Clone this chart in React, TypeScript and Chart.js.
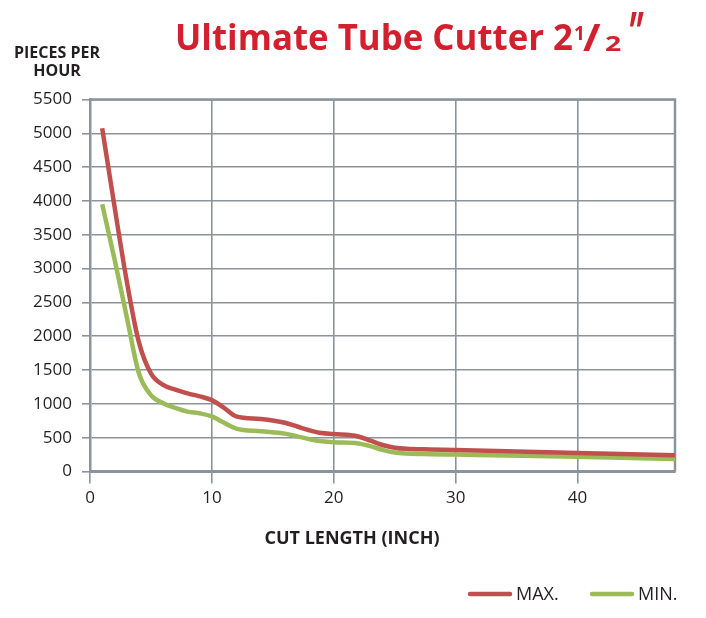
import { useEffect, useRef } from 'react'
import Chart from 'chart.js/auto'

const CUT_LENGTH = [1, 2, 3, 4, 5, 6, 7, 8, 9, 10, 11, 12, 14, 16, 17, 18, 19, 20, 22, 23, 24, 25, 26, 28, 30, 40, 48]
const MAX_PPH = [5075, 3930, 2830, 1920, 1450, 1280, 1210, 1155, 1110, 1055, 940, 815, 775, 720, 665, 610, 568, 553, 518, 455, 392, 352, 335, 326, 318, 272, 240]
const MIN_PPH = [3950, 3150, 2300, 1460, 1130, 1010, 940, 885, 860, 815, 720, 635, 595, 560, 520, 478, 448, 432, 415, 375, 320, 280, 265, 256, 250, 217, 183]
const X_TICKS = [0, 10, 20, 30, 40]
const SERIES = ['MAX.', 'MIN.']

const RED = '#c0504d'
const GREEN = '#9bbb59'
const GRID = '#8b949b'
const TITLE_RED = '#d3202f'
const INK = '#231f20'
const FAMILY = "'Open Sans', sans-serif"

// draws text at (x, baseline) stretched horizontally by sx, slanted by skew
function drawText(ctx: CanvasRenderingContext2D, text: string, font: string, x: number, y: number, sx = 1, skew = 0) {
  ctx.save()
  ctx.font = font
  ctx.translate(x, y)
  ctx.transform(sx, 0, skew, 1, 0, 0)
  ctx.fillText(text, 0, 0)
  ctx.restore()
}

const decorations = {
  id: 'decorations',
  beforeDatasetsDraw(chart: Chart) {
    const { ctx, chartArea: a } = chart
    ctx.save()
    ctx.strokeStyle = GRID
    ctx.lineWidth = 2.5
    ctx.beginPath()
    ctx.moveTo(a.left, a.top)
    ctx.lineTo(a.right, a.top)
    ctx.lineTo(a.right, a.bottom)
    ctx.stroke()
    ctx.restore()
  },
  afterDraw(chart: Chart) {
    const { ctx } = chart
    ctx.save()

    // title: Ultimate Tube Cutter 2 1/2"
    ctx.fillStyle = TITLE_RED
    ctx.textBaseline = 'alphabetic'
    ctx.textAlign = 'left'
    const main = 'Ultimate Tube Cutter 2'
    ctx.font = `bold 36px ${FAMILY}`
    const w = ctx.measureText(main).width
    drawText(ctx, main, `bold 36px ${FAMILY}`, 175, 50, 398 / w)
    drawText(ctx, '1', `bold 19px ${FAMILY}`, 574, 40)
    drawText(ctx, '/', `bold 37px ${FAMILY}`, 583, 51, 1.15)
    drawText(ctx, '2', `bold 21px ${FAMILY}`, 605, 51, 1.35)
    drawText(ctx, '"', `bold 56px ${FAMILY}`, 622, 52, 0.6, -0.2)

    // axis titles
    ctx.fillStyle = INK
    ctx.textAlign = 'center'
    ctx.font = `bold 16px ${FAMILY}`
    ctx.fillText('PIECES PER', 57, 58)
    ctx.fillText('HOUR', 57, 76)
    ctx.font = `bold 18px ${FAMILY}`
    ctx.fillText('CUT LENGTH (INCH)', 352, 544)

    // legend
    const items = [
      { label: SERIES[0], color: RED, x: 470 },
      { label: SERIES[1], color: GREEN, x: 592 },
    ]
    ctx.textAlign = 'left'
    ctx.font = `18px ${FAMILY}`
    for (const it of items) {
      ctx.strokeStyle = it.color
      ctx.lineWidth = 4.5
      ctx.lineCap = 'round'
      ctx.beginPath()
      ctx.moveTo(it.x, 594)
      ctx.lineTo(it.x + 40, 594)
      ctx.stroke()
      ctx.fillStyle = INK
      ctx.fillText(it.label, it.x + 46, 600)
    }
    ctx.restore()
  },
}

export default function App() {
  const canvasRef = useRef<HTMLCanvasElement>(null)

  useEffect(() => {
    if (!canvasRef.current) return
    const chart = new Chart(canvasRef.current, {
      type: 'line',
      data: {
        datasets: [
          {
            label: SERIES[0],
            data: CUT_LENGTH.map((x, i) => ({ x, y: MAX_PPH[i] })),
            borderColor: RED,
            borderWidth: 4.5,
            pointRadius: 0,
            cubicInterpolationMode: 'monotone',
          },
          {
            label: SERIES[1],
            data: CUT_LENGTH.map((x, i) => ({ x, y: MIN_PPH[i] })),
            borderColor: GREEN,
            borderWidth: 4.5,
            pointRadius: 0,
            cubicInterpolationMode: 'monotone',
          },
        ],
      },
      options: {
        responsive: false,
        animation: false,
        layout: { padding: { top: 99.5, right: 31, left: 0, bottom: 0 } },
        plugins: { legend: { display: false }, tooltip: { enabled: false } },
        scales: {
          x: {
            type: 'linear',
            min: 0,
            max: 48,
            afterBuildTicks: (s: any) => { s.ticks = X_TICKS.map(v => ({ value: v })) },
            afterFit: (s: any) => { s.height = 146.5 },
            grid: { color: GRID, lineWidth: 1.6, tickLength: 12 },
            border: { color: GRID, width: 3 },
            ticks: { color: INK, font: { family: FAMILY, size: 17 }, padding: 4, maxRotation: 0, callback: (v: any) => String(v) },
          },
          y: {
            min: 0,
            max: 5500,
            afterFit: (s: any) => { s.width = 90 },
            grid: { color: GRID, lineWidth: 1.6, tickLength: 8 },
            border: { color: GRID, width: 2.5 },
            ticks: { stepSize: 500, color: INK, font: { family: FAMILY, size: 17 }, padding: 10, callback: (v: any) => String(v) },
          },
        },
      },
      plugins: [decorations],
    })
    return () => { chart.destroy() }
  }, [])

  return (
    <div style={{ position: 'absolute', left: 0, top: 0, width: 706, height: 618, background: '#fff' }}>
      <canvas ref={canvasRef} width={706} height={618} style={{ width: 706, height: 618 }} />
    </div>
  )
}
